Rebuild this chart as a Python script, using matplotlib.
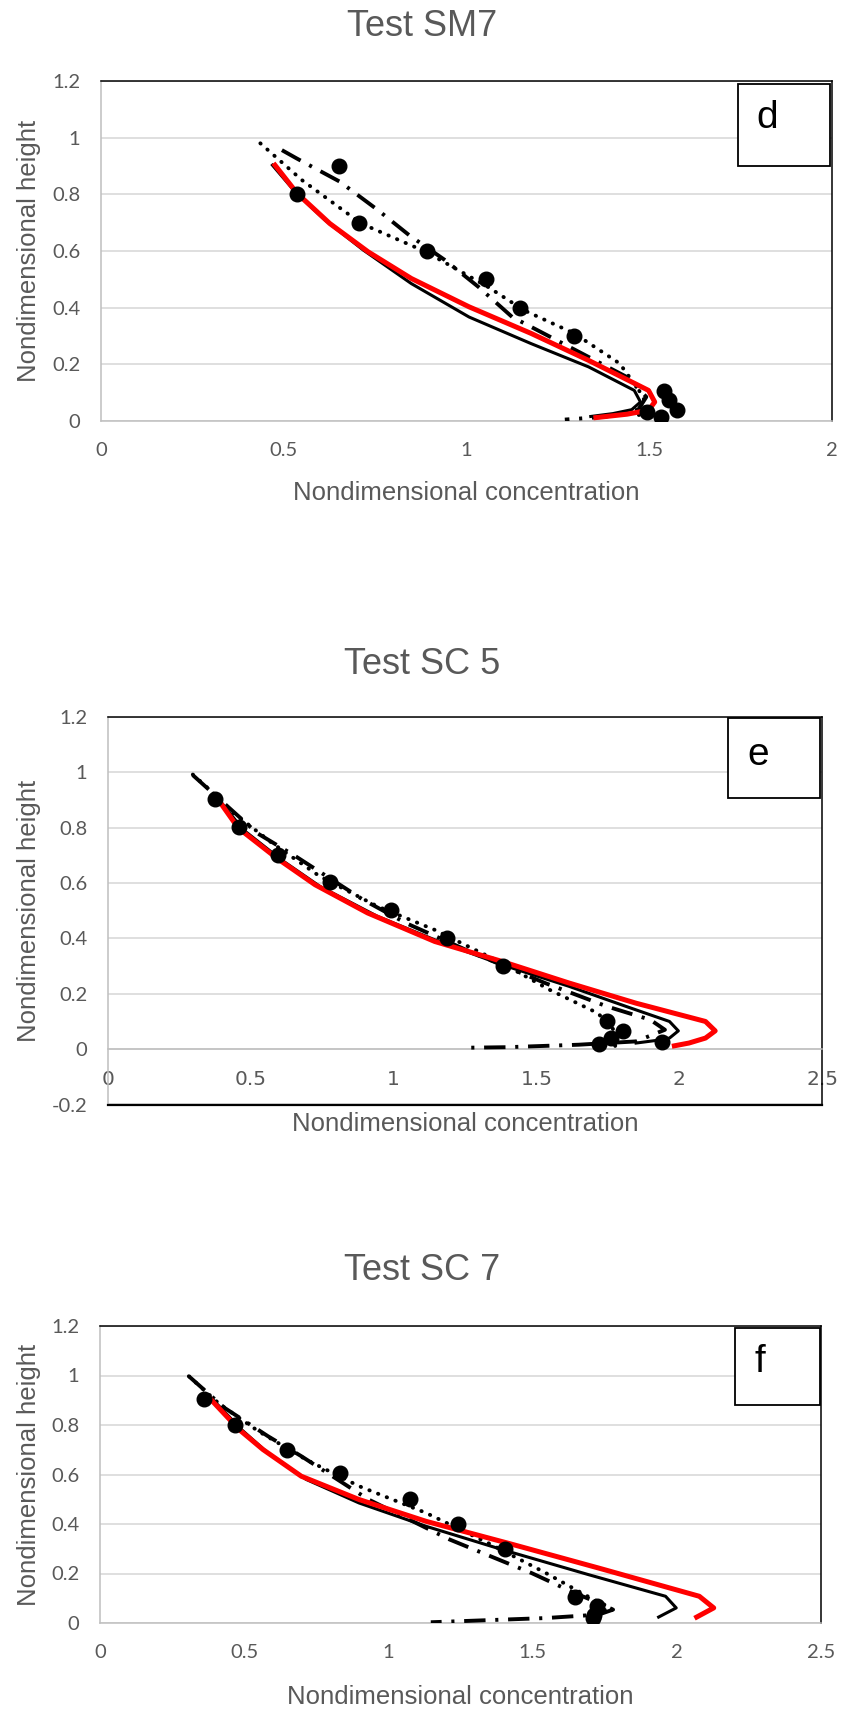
import numpy as np
import matplotlib
matplotlib.use('Agg')
import matplotlib.pyplot as plt
from matplotlib.patches import Rectangle

# Paneles: títulos, letras y límites
titles = ['Test SM7', 'Test SC 5', 'Test SC 7']
letters = ['d', 'e', 'f']
x_max = [2.0, 2.5, 2.5]
y_min = [0.0, -0.2, 0.0]

# --- Test SM7 (d) ---
d_pts_x = [0.65, 0.537, 0.707, 0.893, 1.054, 1.146, 1.293, 1.541, 1.554, 1.577, 1.495, 1.531]
d_pts_y = [0.90, 0.80, 0.70, 0.60, 0.50, 0.40, 0.30, 0.106, 0.073, 0.038, 0.032, 0.014]
d_red_x = [0.476, 0.537, 0.626, 0.731, 0.849, 1.007, 1.177, 1.334, 1.498, 1.515, 1.498, 1.439, 1.354]
d_red_y = [0.903, 0.803, 0.697, 0.597, 0.503, 0.403, 0.309, 0.214, 0.108, 0.067, 0.038, 0.024, 0.012]
d_blk_x = [0.469, 0.535, 0.613, 0.718, 0.849, 1.007, 1.177, 1.334, 1.459, 1.476, 1.452, 1.400, 1.340]
d_blk_y = [0.903, 0.803, 0.709, 0.603, 0.485, 0.367, 0.273, 0.191, 0.108, 0.067, 0.040, 0.026, 0.016]
d_dot_x = [0.436, 0.55, 0.712, 0.889, 1.059, 1.157, 1.295, 1.419, 1.472, 1.492, 1.48, 1.465]
d_dot_y = [0.98, 0.85, 0.697, 0.597, 0.473, 0.391, 0.309, 0.203, 0.108, 0.061, 0.03, 0.014]
d_dd_x = [0.495, 0.535, 0.653, 0.758, 0.843, 0.941, 1.033, 1.125, 1.229, 1.334, 1.439, 1.492, 1.47, 1.38, 1.269]
d_dd_y = [0.956, 0.927, 0.845, 0.744, 0.656, 0.568, 0.473, 0.367, 0.297, 0.226, 0.155, 0.085, 0.04, 0.015, 0.005]

# --- Test SC 5 (e) ---
e_pts_x = [0.376, 0.458, 0.596, 0.779, 0.992, 1.188, 1.383, 1.748, 1.804, 1.760, 1.718, 1.941]
e_pts_y = [0.904, 0.801, 0.702, 0.605, 0.502, 0.402, 0.301, 0.10, 0.066, 0.042, 0.018, 0.027]
e_red_x = [0.386, 0.456, 0.591, 0.725, 0.909, 1.144, 1.379, 1.614, 1.849, 2.092, 2.126, 2.092, 2.034, 1.983]
e_red_y = [0.901, 0.799, 0.690, 0.594, 0.492, 0.389, 0.317, 0.239, 0.166, 0.10, 0.066, 0.04, 0.022, 0.012]
e_blk_x = [0.389, 0.473, 0.607, 0.742, 0.943, 1.144, 1.379, 1.614, 1.815, 1.966, 1.997, 1.966, 1.916, 1.849]
e_blk_y = [0.901, 0.793, 0.684, 0.588, 0.480, 0.395, 0.305, 0.227, 0.154, 0.10, 0.066, 0.04, 0.031, 0.022]
e_dot_x = [0.297, 0.356, 0.440, 0.574, 0.742, 0.943, 1.144, 1.379, 1.547, 1.715, 1.782, 1.774]
e_dot_y = [0.992, 0.937, 0.853, 0.745, 0.624, 0.516, 0.431, 0.311, 0.214, 0.130, 0.058, -0.002]
e_dd_x = [0.297, 0.523, 0.658, 0.893, 1.044, 1.279, 1.530, 1.748, 1.899, 1.950, 1.849, 1.648, 1.396, 1.245]
e_dd_y = [0.99, 0.78, 0.696, 0.540, 0.455, 0.347, 0.239, 0.154, 0.106, 0.07, 0.028, 0.016, 0.007, 0.005]

# --- Test SC 7 (f) ---
f_pts_x = [0.362, 0.469, 0.648, 0.831, 1.074, 1.243, 1.406, 1.646, 1.725, 1.712, 1.709]
f_pts_y = [0.906, 0.799, 0.701, 0.606, 0.501, 0.402, 0.299, 0.105, 0.067, 0.034, 0.02]
f_red_x = [0.382, 0.482, 0.565, 0.698, 0.898, 1.130, 1.413, 1.729, 2.078, 2.128, 2.069]
f_red_y = [0.906, 0.782, 0.701, 0.593, 0.499, 0.411, 0.323, 0.222, 0.108, 0.061, 0.024]
f_blk_x = [0.391, 0.490, 0.582, 0.715, 0.898, 1.130, 1.396, 1.695, 1.961, 1.998, 1.937]
f_blk_y = [0.903, 0.782, 0.687, 0.580, 0.485, 0.391, 0.296, 0.195, 0.108, 0.061, 0.024]
f_dot_x = [0.308, 0.416, 0.549, 0.715, 0.898, 1.130, 1.346, 1.546, 1.712, 1.762, 1.729]
f_dot_y = [0.997, 0.883, 0.775, 0.660, 0.553, 0.445, 0.323, 0.202, 0.094, 0.067, 0.027]
f_dd_x = [0.308, 0.432, 0.582, 0.698, 0.931, 1.213, 1.496, 1.646, 1.729, 1.779, 1.729, 1.546, 1.147]
f_dd_y = [0.997, 0.869, 0.755, 0.674, 0.499, 0.337, 0.202, 0.121, 0.081, 0.054, 0.034, 0.02, 0.003]

panels = [
    (d_pts_x, d_pts_y, d_red_x, d_red_y, d_blk_x, d_blk_y, d_dot_x, d_dot_y, d_dd_x, d_dd_y),
    (e_pts_x, e_pts_y, e_red_x, e_red_y, e_blk_x, e_blk_y, e_dot_x, e_dot_y, e_dd_x, e_dd_y),
    (f_pts_x, f_pts_y, f_red_x, f_red_y, f_blk_x, f_blk_y, f_dot_x, f_dot_y, f_dd_x, f_dd_y),
]

# Geometría en píxeles (izq, der, arriba, abajo)
W, H = 842, 1709
boxes_px = [(101, 832, 81, 421), (108, 822, 717, 1104.5), (100, 821, 1326, 1623)]
title_y_px = [26, 664, 1270]
xlabel_top = [-0.176, -0.02, -0.208]
ylabel_x = [-0.0825, -0.094, -0.0825]
letter_boxes = [(0.871, 0.751, 0.126, 0.240, 0.897, 0.892),
                (0.868, 0.791, 0.129, 0.206, 0.896, 0.902),
                (0.881, 0.734, 0.118, 0.259, 0.908, 0.879)]

GRAY = '#595959'
TEXT_FONT = ['Liberation Sans', 'DejaVu Sans']
TICK_FONT = ['Lato', 'DejaVu Sans']

fig = plt.figure(figsize=(W / 100, H / 100), dpi=100)

def fmt(v):
    return f'{v:g}'

for i, data in enumerate(panels):
    l, r, t, b = boxes_px[i]
    ax = fig.add_axes([l / W, 1 - b / H, (r - l) / W, (b - t) / H])
    px, py, rx, ry, kx, ky, dx, dy, ddx, ddy = data

    ax.plot(dx, dy, color='black', lw=2.8, linestyle=(0, (0.1, 2.3)),
            dash_capstyle='round', zorder=3)
    ax.plot(ddx, ddy, color='black', lw=2.8, linestyle=(0, (5.5, 2.5, 0.8, 2.5)),
            zorder=3)
    ax.plot(kx, ky, color='black', lw=2.2, zorder=4)
    ax.plot(rx, ry, color='#ff0000', lw=3.6, zorder=5)
    ax.plot(px, py, 'o', color='black', markersize=10.5, zorder=6)

    ax.set_xlim(0, x_max[i])
    ax.set_ylim(y_min[i], 1.2)
    xt = np.arange(0, x_max[i] + 0.01, 0.5)
    yt = np.round(np.arange(y_min[i], 1.21, 0.2), 1)
    ax.set_xticks(xt)
    ax.set_xticklabels([fmt(v) for v in xt])
    ax.set_yticks(yt)
    ax.set_yticklabels([fmt(v) for v in yt])
    ax.tick_params(length=0, labelsize=14.5, labelcolor=GRAY)
    ax.tick_params(axis='x', pad=15)
    ax.tick_params(axis='y', pad=15)
    for lab in ax.get_xticklabels() + ax.get_yticklabels():
        lab.set_family(TICK_FONT)

    ax.grid(axis='y', color='#d9d9d9', lw=1.2, zorder=0)
    ax.set_axisbelow(True)

    for s in ['top', 'right']:
        ax.spines[s].set_color('black')
        ax.spines[s].set_linewidth(1.1)
    for s in ['left', 'bottom']:
        ax.spines[s].set_color('#bfbfbf')
        ax.spines[s].set_linewidth(1.1)
    if y_min[i] < 0:
        ax.spines['bottom'].set_position(('data', 0))
        ax.plot([0, 1], [0, 0], transform=ax.transAxes, color='black', lw=1.6,
                clip_on=False, zorder=7)

    ax.set_xlabel('Nondimensional concentration', fontsize=18.5, color=GRAY,
                  family=TEXT_FONT)
    ax.xaxis.set_label_coords(0.5, xlabel_top[i])
    ax.set_ylabel('Nondimensional height', fontsize=18.5, color=GRAY,
                  family=TEXT_FONT)
    ax.yaxis.set_label_coords(ylabel_x[i], 0.5)

    fig.text(0.501, 1 - title_y_px[i] / H, titles[i], fontsize=26, color=GRAY,
             ha='center', va='center', family=TEXT_FONT)

    bx, by, bw, bh, lx, ly = letter_boxes[i]
    ax.add_patch(Rectangle((bx, by), bw, bh, transform=ax.transAxes,
                           facecolor='white', edgecolor='black', lw=1.3, zorder=8))
    ax.text(lx, ly, letters[i], transform=ax.transAxes, fontsize=28,
            ha='left', va='center', color='black', family=TEXT_FONT, zorder=9)

fig.savefig('out.png', dpi=100)
